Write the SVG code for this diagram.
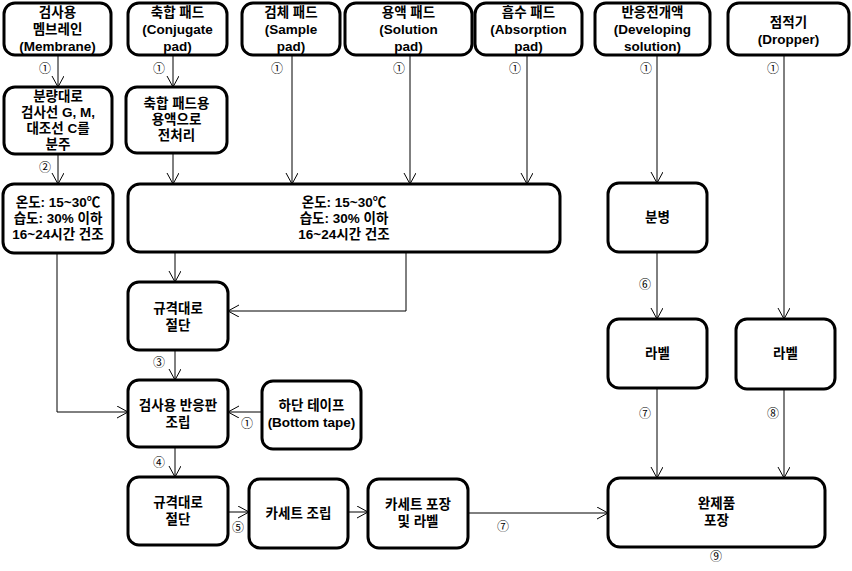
<svg xmlns="http://www.w3.org/2000/svg" width="852" height="571" viewBox="0 0 852 571">
<defs>
<marker id="arr" markerUnits="userSpaceOnUse" markerWidth="14" markerHeight="14" refX="11" refY="6" orient="auto">
<path d="M0,0 L11,6 L0,12" fill="none" stroke="#000" stroke-width="1"/>
</marker>
<style>
.box{fill:#fff;stroke:#000;stroke-width:3}
.t{font-family:"Liberation Sans","Noto Sans CJK KR",sans-serif;font-size:13.5px;font-weight:bold;text-anchor:middle;fill:#000}
.n{font-family:"Noto Sans CJK KR","DejaVu Sans",sans-serif;font-size:12px;text-anchor:middle;fill:#000}
.c{fill:none;stroke:#000;stroke-width:1;marker-end:url(#arr)}
</style>
</defs>
<rect width="852" height="571" fill="#fff"/>
<g id="connectors">
<path class="c" d="M58,55 V87"/>
<path class="c" d="M173,55 V87"/>
<path class="c" d="M292,55 V184"/>
<path class="c" d="M410,55 V184"/>
<path class="c" d="M527,55 V184"/>
<path class="c" d="M657,55 V183"/>
<path class="c" d="M784,55 V319"/>
<path class="c" d="M58,154 V184"/>
<path class="c" d="M173,153 V184"/>
<path class="c" d="M175,252 V282"/>
<path class="c" d="M406,252 V311 H228"/>
<path class="c" d="M57,253 V412 H128"/>
<path class="c" d="M175,350 V380"/>
<path class="c" d="M262,412 H228"/>
<path class="c" d="M175,447 V477"/>
<path class="c" d="M228,512 H249"/>
<path class="c" d="M348,512 H368"/>
<path class="c" d="M468,513 H608"/>
<path class="c" d="M657,252 V319"/>
<path class="c" d="M657,388 V478"/>
<path class="c" d="M784,389 V478"/>
<text class="n" x="45" y="73">①</text>
<text class="n" x="159" y="73">①</text>
<text class="n" x="277" y="73">①</text>
<text class="n" x="399" y="73">①</text>
<text class="n" x="515" y="73">①</text>
<text class="n" x="646" y="73">①</text>
<text class="n" x="773" y="73">①</text>
<text class="n" x="45" y="172">②</text>
<text class="n" x="159" y="367">③</text>
<text class="n" x="247" y="428">①</text>
<text class="n" x="159" y="467">④</text>
<text class="n" x="238" y="532">⑤</text>
<text class="n" x="503" y="531">⑦</text>
<text class="n" x="645" y="289">⑥</text>
<text class="n" x="645" y="418">⑦</text>
<text class="n" x="773" y="418">⑧</text>
<text class="n" x="716" y="561">⑨</text>
</g>
<g id="membrane"><rect class="box" x="4" y="3" width="107" height="52" rx="11"/>
<text class="t" x="57.5" y="17">검사용</text><text class="t" x="57.5" y="34">멤브레인</text><text class="t" x="57.5" y="51">(Membrane)</text></g>
<g id="conjugate"><rect class="box" x="128" y="3" width="99" height="52" rx="11"/>
<text class="t" x="177.5" y="17">축합 패드</text><text class="t" x="177.5" y="34">(Conjugate</text><text class="t" x="177.5" y="51">pad)</text></g>
<g id="sample"><rect class="box" x="242" y="3" width="98" height="52" rx="11"/>
<text class="t" x="291" y="17">검체 패드</text><text class="t" x="291" y="34">(Sample</text><text class="t" x="291" y="51">pad)</text></g>
<g id="solution"><rect class="box" x="345" y="3" width="127" height="52" rx="11"/>
<text class="t" x="408.5" y="17">용액 패드</text><text class="t" x="408.5" y="34">(Solution</text><text class="t" x="408.5" y="51">pad)</text></g>
<g id="absorption"><rect class="box" x="475" y="3" width="107" height="52" rx="11"/>
<text class="t" x="528.5" y="17">흡수 패드</text><text class="t" x="528.5" y="34">(Absorption</text><text class="t" x="528.5" y="51">pad)</text></g>
<g id="developing"><rect class="box" x="595" y="3" width="115" height="52" rx="11"/>
<text class="t" x="652.5" y="17">반응전개액</text><text class="t" x="652.5" y="34">(Developing</text><text class="t" x="652.5" y="51">solution)</text></g>
<g id="dropper"><rect class="box" x="728" y="3" width="121" height="52" rx="11"/>
<text class="t" x="788.5" y="27">점적기</text><text class="t" x="788.5" y="44">(Dropper)</text></g>
<g id="dispense"><rect class="box" x="4" y="87" width="108" height="67" rx="11"/>
<text class="t" x="58" y="101">분량대로</text><text class="t" x="58" y="117">검사선 G, M,</text><text class="t" x="58" y="133">대조선 C를</text><text class="t" x="58" y="149">분주</text></g>
<g id="pretreat"><rect class="box" x="126" y="87" width="101" height="66" rx="11"/>
<text class="t" x="176.5" y="108">축합 패드용</text><text class="t" x="176.5" y="124">용액으로</text><text class="t" x="176.5" y="140">전처리</text></g>
<g id="dry1"><rect class="box" x="3" y="184" width="110" height="69" rx="11"/>
<text class="t" x="58" y="207">온도: 15~30℃</text><text class="t" x="58" y="223">습도: 30% 이하</text><text class="t" x="58" y="239">16~24시간 건조</text></g>
<g id="dry2"><rect class="box" x="128" y="184" width="432" height="68" rx="12"/>
<text class="t" x="344" y="207">온도: 15~30℃</text><text class="t" x="344" y="223">습도: 30% 이하</text><text class="t" x="344" y="239">16~24시간 건조</text></g>
<g id="bottle"><rect class="box" x="608" y="183" width="99" height="69" rx="11"/>
<text class="t" x="657.5" y="222">분병</text></g>
<g id="cut1"><rect class="box" x="128" y="282" width="100" height="68" rx="11"/>
<text class="t" x="178" y="313">규격대로</text><text class="t" x="178" y="330">절단</text></g>
<g id="label1"><rect class="box" x="608" y="319" width="99" height="69" rx="11"/>
<text class="t" x="657.5" y="358">라벨</text></g>
<g id="label2"><rect class="box" x="736" y="319" width="99" height="70" rx="11"/>
<text class="t" x="785.5" y="358">라벨</text></g>
<g id="assemble"><rect class="box" x="128" y="380" width="100" height="67" rx="11"/>
<text class="t" x="178" y="410">검사용 반응판</text><text class="t" x="178" y="427">조립</text></g>
<g id="tape"><rect class="box" x="262" y="381" width="99" height="68" rx="11"/>
<text class="t" x="311.5" y="410">하단 테이프</text><text class="t" x="311.5" y="427">(Bottom tape)</text></g>
<g id="cut2"><rect class="box" x="128" y="477" width="100" height="68" rx="11"/>
<text class="t" x="178" y="507">규격대로</text><text class="t" x="178" y="524">절단</text></g>
<g id="cassette"><rect class="box" x="249" y="479" width="99" height="69" rx="11"/>
<text class="t" x="298.5" y="518">카세트 조립</text></g>
<g id="pack"><rect class="box" x="368" y="479" width="100" height="69" rx="11"/>
<text class="t" x="418" y="509">카세트 포장</text><text class="t" x="418" y="526">및 라벨</text></g>
<g id="final"><rect class="box" x="608" y="478" width="217" height="69" rx="12"/>
<text class="t" x="716.5" y="508">완제품</text><text class="t" x="716.5" y="525">포장</text></g>
</svg>
